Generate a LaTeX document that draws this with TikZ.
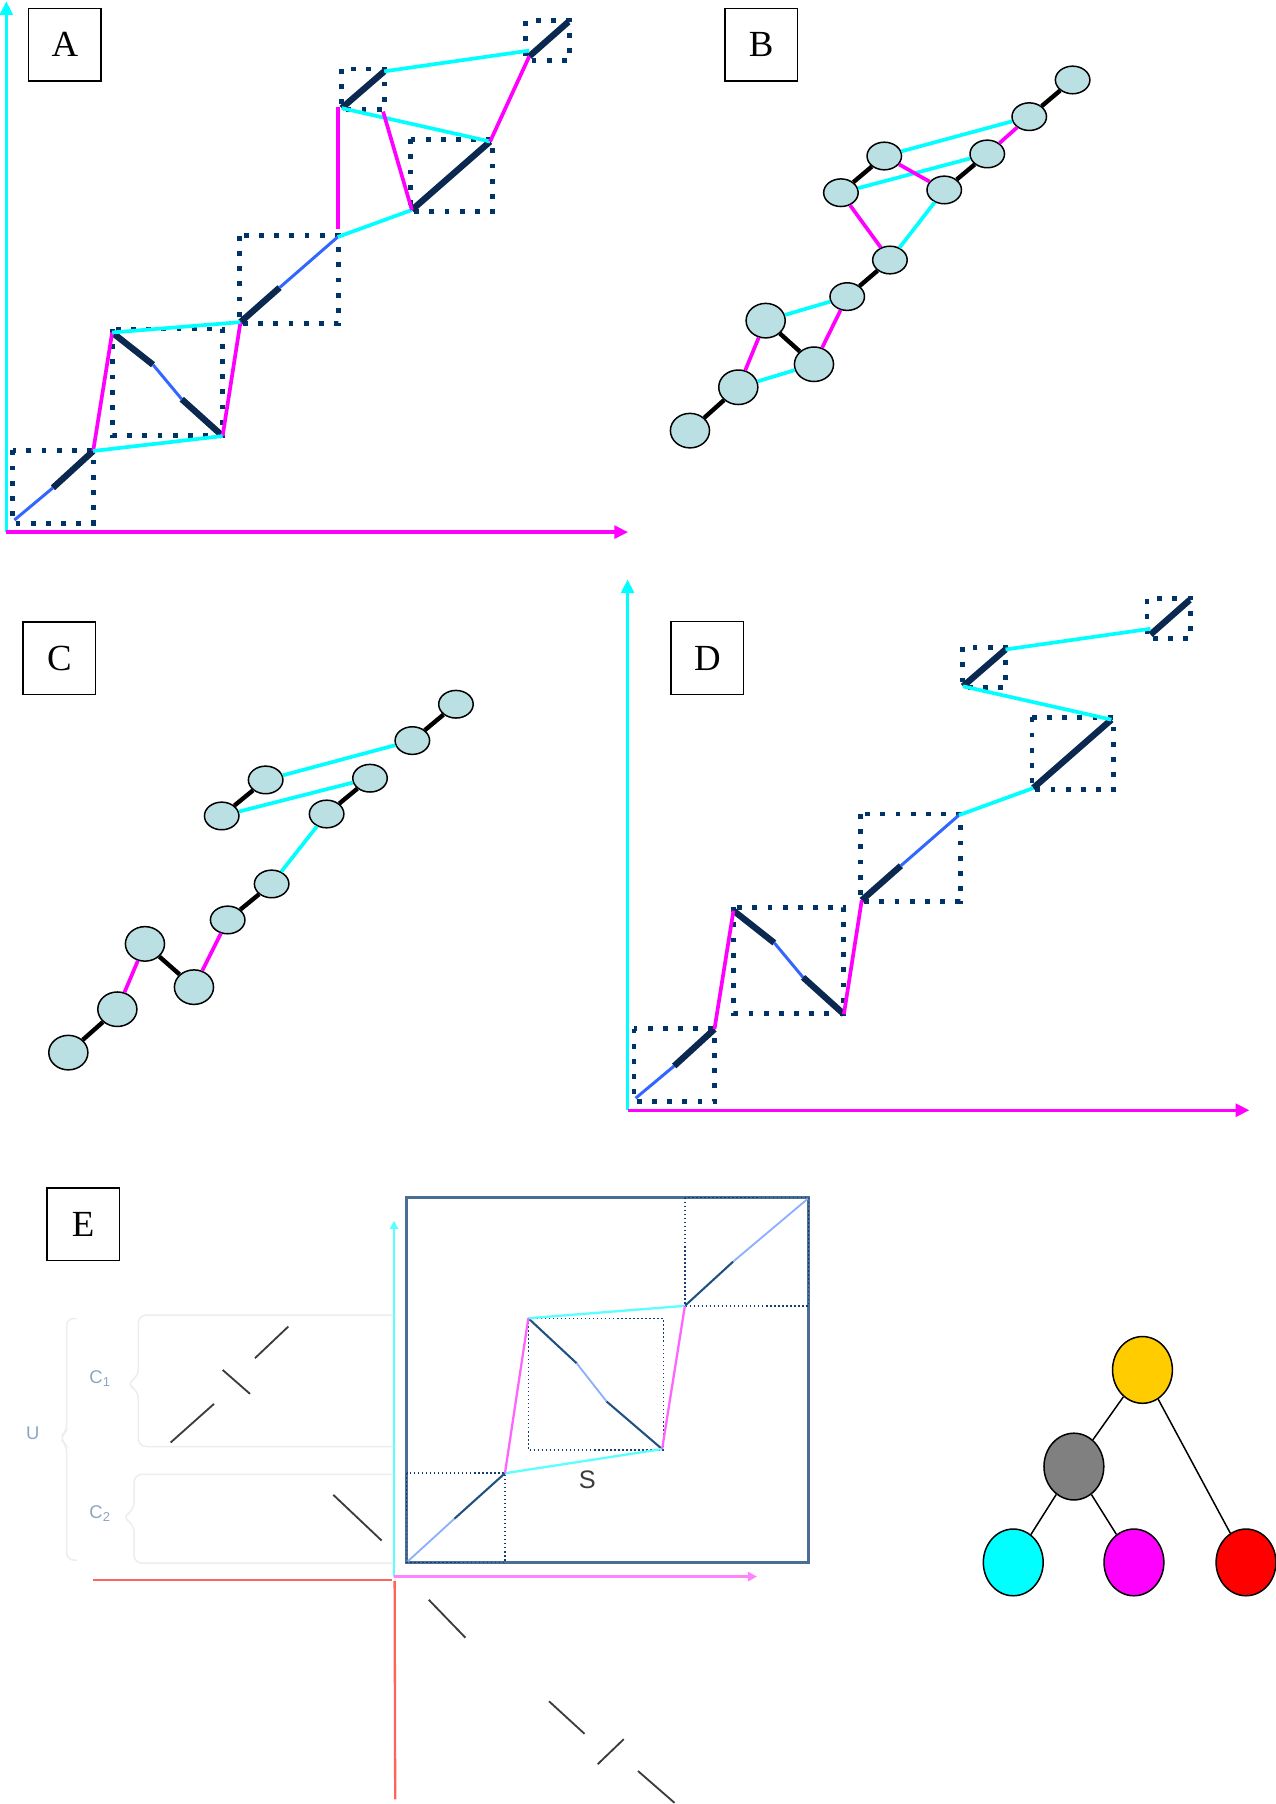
\documentclass[tikz,border=0pt]{standalone}
\usepackage{fontspec}
\setmainfont{Liberation Serif}
\setsansfont{Liberation Sans}
\usetikzlibrary{arrows.meta,shapes.geometric}

\definecolor{cian}{RGB}{0,255,255}
\definecolor{mgt}{RGB}{255,0,255}
\definecolor{marino}{RGB}{0,51,102}
\definecolor{oscuro}{RGB}{10,40,80}
\definecolor{azul}{RGB}{51,102,255}
\definecolor{relleno}{RGB}{187,224,227}
\definecolor{amarillo}{RGB}{255,204,0}
\definecolor{grisnodo}{RGB}{128,128,128}
\definecolor{marcoE}{RGB}{75,110,150}
\definecolor{puntoE}{RGB}{20,60,110}
\definecolor{oscuroE}{RGB}{30,80,130}
\definecolor{claroE}{RGB}{140,175,255}
\definecolor{cianE}{RGB}{90,255,255}
\definecolor{mgtE}{RGB}{255,100,255}
\definecolor{rosaE}{RGB}{255,130,255}
\definecolor{rojoE}{RGB}{255,100,90}
\definecolor{llaveE}{RGB}{236,236,242}
\definecolor{rotuloE}{RGB}{140,165,195}
\definecolor{trazoE}{RGB}{60,60,60}

\tikzset{
  eje/.style={line width=3pt, -{Triangle[length=12pt,width=11pt]}},
  caja/.style={draw=marino, line width=4.2pt, dash pattern=on 4.2pt off 9pt},
  tramo/.style={draw=oscuro, line width=5.5pt},
  fino/.style={draw=azul, line width=2.6pt},
  enlacec/.style={draw=cian, line width=3.2pt},
  enlacem/.style={draw=mgt, line width=3.2pt},
  negro/.style={draw=black, line width=3.8pt},
  etiqueta/.style={draw, line width=1.2pt, minimum width=63pt, minimum height=63pt,
    inner sep=0pt, font=\fontsize{32}{32}\selectfont},
  nodo/.style={ellipse, draw, line width=1.3pt, fill=relleno,
    minimum width=30pt, minimum height=24pt, inner sep=0pt},
  nodog/.style={nodo, minimum width=34pt, minimum height=30pt},
  arbol/.style={ellipse, draw, line width=1.3pt, minimum width=52pt,
    minimum height=58pt, inner sep=0pt},
  marco/.style={draw=marcoE, line width=3pt},
  punteado/.style={draw=puntoE, line width=1.3pt, dash pattern=on 1.3pt off 2.2pt},
  tramoE/.style={draw=oscuroE, line width=1.8pt},
  finoE/.style={draw=claroE, line width=1.6pt},
  llave/.style={draw=llaveE, line width=1.3pt},
  rotulo/.style={text=rotuloE, font=\sffamily\fontsize{16}{16}\selectfont},
  trazo/.style={draw=trazoE, line width=1.6pt}
}

% escalera de cajas (paneles A y D)
\newcommand{\escalera}{%
  % ejes
  \coordinate (O) at (5.5,462.5);
  \coordinate (ytop) at (5.5,1);
  \coordinate (xtip) at (546,462.5);
  \draw[eje, cian] (O) -- (ytop);
  \draw[eje, mgt] (O) -- (xtip);
  % cajas punteadas
  \draw[caja] (11,391.5) rectangle (81,455);
  \draw[caja] (97.5,286) rectangle (193.5,378.5);
  \draw[caja] (208,205) rectangle (294.5,281);
  \draw[caja] (296.5,60) rectangle (334,95);
  \draw[caja] (357,121) rectangle (428,184);
  \draw[caja] (457,18) rectangle (495,52.5);
  % diagonales
  \coordinate (p1) at (12.5,452); \coordinate (m1) at (46,424); \coordinate (q1) at (81,392);
  \coordinate (p2) at (97.5,289); \coordinate (m2a) at (133,317);
  \coordinate (m2b) at (158,347); \coordinate (q2) at (193.5,379);
  \coordinate (p3) at (209,280); \coordinate (m3) at (243,250); \coordinate (q3) at (293.5,206);
  \coordinate (p4) at (297,94); \coordinate (q4) at (334,62);
  \coordinate (p5) at (358,182.5); \coordinate (q5) at (426,123);
  \coordinate (p6) at (460,49); \coordinate (q6) at (494,19);
  \coordinate (c6) at (460,44);
  \coordinate (c4) at (333,97);
  \coordinate (v3) at (294,199); \coordinate (v4) at (294,93);
  \draw[fino] (p1) -- (m1);
  \draw[tramo] (m1) -- (q1);
  \draw[tramo] (p2) -- (m2a);
  \draw[fino] (m2a) -- (m2b);
  \draw[tramo] (m2b) -- (q2);
  \draw[tramo] (p3) -- (m3);
  \draw[fino] (m3) -- (q3);
  \draw[tramo] (p4) -- (q4);
  \draw[tramo] (p5) -- (q5);
  \draw[tramo] (p6) -- (q6);
  % enlaces comunes
  \draw[enlacem] (q1) -- (p2);
  \draw[enlacem] (q2) -- (p3);
  \draw[enlacec] (q3) -- (p5);
  \draw[enlacec] (p4) -- (q5);
  \draw[enlacec] (q4) -- (c6);
}

\begin{document}
\begin{tikzpicture}[x=1pt,y=-1pt]
  \useasboundingbox (0,0) rectangle (1109,1568);

  % Panel A: escalera con todos los enlaces
  \escalera
  \draw[enlacec] (q1) -- (q2);
  \draw[enlacec] (p2) -- (p3);
  \draw[enlacem] (v3) -- (v4);
  \draw[enlacem] (c4) -- (p5);
  \draw[enlacem] (q5) -- (p6);
  \node[etiqueta] (labA) at (56.4,38.9) {A};

  % Panel D: la misma escalera sin enlaces superiores
  \begin{scope}[shift={(540,502.5)}]
    \escalera
  \end{scope}
  \node[etiqueta] (labD) at (614.8,571.9) {D};

  % Panel B: grafo completo
  \node[etiqueta] (labB) at (661.5,38.8) {B};
  \node[nodo] (b1) at (932.3,69.5) {};
  \node[nodo] (b2) at (894.6,101.4) {};
  \node[nodo] (b3) at (858.1,133.8) {};
  \node[nodo] (b4) at (820.7,165.1) {};
  \node[nodo] (b5) at (768.6,135.6) {};
  \node[nodo] (b6) at (730.9,167.5) {};
  \node[nodo] (b7) at (773.5,226) {};
  \node[nodo] (b8) at (736.4,257.8) {};
  \node[nodog] (b9) at (665.5,278.7) {};
  \node[nodog] (b10) at (707.5,316.6) {};
  \node[nodog] (b11) at (641.7,336.6) {};
  \node[nodog] (b12) at (599.7,374.3) {};
  \draw[negro] (b1) -- (b2) (b3) -- (b4) (b5) -- (b6)
               (b7) -- (b8) (b9) -- (b10) (b11) -- (b12);
  \draw[enlacec] (b2) -- (b5) (b3) -- (b6) (b4) -- (b7) (b8) -- (b9) (b10) -- (b11);
  \draw[enlacem] (b2) -- (b3) (b5) -- (b4) (b6) -- (b7) (b8) -- (b10) (b9) -- (b11);

  % Panel C: grafo con menos enlaces
  \node[etiqueta] (labC) at (51.6,572.2) {C};
  \node[nodo] (c1) at (396.3,612.1) {};
  \node[nodo] (c2) at (358.4,643.7) {};
  \node[nodo] (c3) at (321.6,676.4) {};
  \node[nodo] (c4) at (283.9,707.5) {};
  \node[nodo] (c5) at (230.9,677.9) {};
  \node[nodo] (c6) at (192.7,709.2) {};
  \node[nodo] (c7) at (236.1,768.3) {};
  \node[nodo] (c8) at (197.9,799.6) {};
  \node[nodog] (c9) at (126,820.4) {};
  \node[nodog] (c10) at (168.6,858) {};
  \node[nodog] (c11) at (102,877.2) {};
  \node[nodog] (c12) at (59.4,914.9) {};
  \draw[negro] (c1) -- (c2) (c3) -- (c4) (c5) -- (c6)
               (c7) -- (c8) (c9) -- (c10) (c11) -- (c12);
  \draw[enlacec] (c2) -- (c5) (c3) -- (c6) (c4) -- (c7);
  \draw[enlacem] (c8) -- (c10) (c9) -- (c11);

  % Panel E: matriz S con bloques
  \node[etiqueta] (labE) at (72.3,1064.2) {E};
  \draw[marco] (353.5,1041) rectangle (702.8,1358);
  \draw[punteado] (353.5,1280.5) rectangle (438.9,1358);
  \draw[punteado] (459.2,1145.8) rectangle (576.5,1260.2);
  \draw[punteado] (595.3,1041) rectangle (702.8,1135);
  \coordinate (ep1) at (354.5,1357); \coordinate (em1) at (395,1320);
  \coordinate (eq1) at (438.9,1280.5);
  \coordinate (ep2) at (459.2,1145.8); \coordinate (em2a) at (501.2,1184.9);
  \coordinate (em2b) at (527.3,1218.2); \coordinate (eq2) at (575.5,1259.5);
  \coordinate (ep3) at (595.3,1135); \coordinate (em3) at (637.3,1096.5);
  \coordinate (eq3) at (702,1042);
  \draw[finoE] (ep1) -- (em1);
  \draw[tramoE] (em1) -- (eq1);
  \draw[tramoE] (ep2) -- (em2a);
  \draw[finoE] (em2a) -- (em2b);
  \draw[tramoE] (em2b) -- (eq2);
  \draw[tramoE] (ep3) -- (em3);
  \draw[finoE] (em3) -- (eq3);
  \draw[draw=cianE, line width=2pt] (eq1) -- (eq2) (ep2) -- (ep3);
  \draw[draw=mgtE, line width=2pt] (eq1) -- (ep2) (eq2) -- (ep3);
  \node[text=trazoE, font=\sffamily\fontsize{22}{22}\selectfont] (s) at (510.4,1286.3) {S};

  % ejes del panel E
  \coordinate (E0) at (342.5,1371);
  \coordinate (Ey) at (342.5,1061);
  \coordinate (Ex) at (658,1370.3);
  \draw[draw=cianE, line width=2pt, -{Triangle[length=7pt,width=7pt]}] (E0) -- (Ey);
  \draw[draw=rosaE, line width=2.5pt, -{Triangle[length=8pt,width=8pt]}] (342.5,1370.3) -- (Ex);
  \draw[draw=rojoE, line width=2pt] (80.5,1373.2) -- (341,1373.2);
  \draw[draw=rojoE, line width=2pt] (343,1374) -- (343.5,1564);

  % llaves U, C1, C2
  \draw[llave, rounded corners=6pt] (67,1146) -- (58,1146) -- (58,1244)
    -- (51.6,1250) -- (58,1256) -- (58,1356) -- (67,1356);
  \draw[llave, rounded corners=7pt] (342,1143) -- (120.2,1143) -- (120.2,1197)
    -- (109.5,1202.8) -- (120.2,1208.5) -- (120.2,1257.3) -- (342,1257.3);
  \draw[llave, rounded corners=7pt] (342,1281.5) -- (116.5,1281.5) -- (116.5,1313)
    -- (105.8,1318.7) -- (116.5,1324.5) -- (116.5,1358.7) -- (342,1358.7);
  \node[rotulo] (lu) at (28.4,1245.7) {U};
  \node[rotulo] (lc1) at (86.9,1197.9) {C\textsubscript{1}};
  \node[rotulo] (lc2) at (86.9,1315.3) {C\textsubscript{2}};

  % trazos sueltos
  \draw[trazo] (221.6,1180.5) -- (250.6,1153);
  \draw[trazo] (193.5,1190.7) -- (217.3,1211.5);
  \draw[trazo] (148.3,1253.8) -- (186,1220.2);
  \draw[trazo] (289.7,1299.3) -- (331.7,1339);
  \draw[trazo] (372.7,1390.5) -- (404.5,1423.4);
  \draw[trazo] (477.2,1478.7) -- (508.1,1507);
  \draw[trazo] (519.5,1533.4) -- (542.2,1511.6);
  \draw[trazo] (554.5,1539.3) -- (586.3,1567);

  % arbol de colores
  \node[arbol, fill=amarillo] (raiz) at (993,1190.7) {};
  \node[arbol, fill=grisnodo] (medio) at (933.4,1274.7) {};
  \node[arbol, fill=cian] (hcian) at (880.7,1358) {};
  \node[arbol, fill=mgt] (hmag) at (985.6,1358) {};
  \node[arbol, fill=red] (hrojo) at (1083,1358) {};
  \draw[line width=1.3pt] (raiz) -- (medio) (raiz) -- (hrojo)
                          (medio) -- (hcian) (medio) -- (hmag);
\end{tikzpicture}
\end{document}
